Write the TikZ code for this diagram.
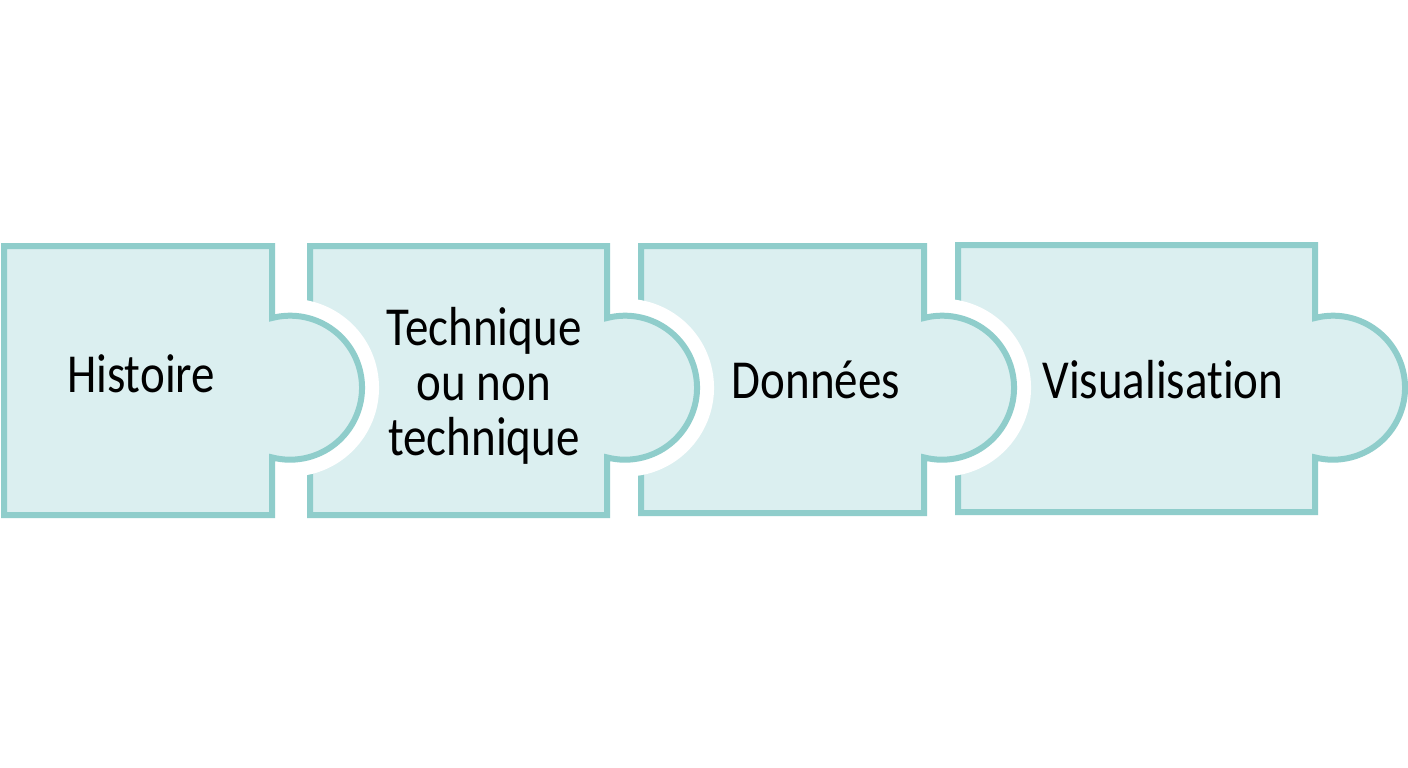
\documentclass[tikz,border=0pt]{standalone}
\usepackage{fontspec}
\setmainfont{Carlito}[Ligatures=NoCommon]
\definecolor{edge}{RGB}{143,205,203}
\definecolor{paper}{RGB}{219,239,240}
\begin{document}
\begin{tikzpicture}[x=1pt,y=-1pt,
  piece/.style={fill=paper,draw=edge,line width=6pt,line join=miter},
  halo/.style={draw=white,line width=34pt},
  label/.style={font=\fontsize{47}{55}\selectfont,text=black,inner sep=0pt,align=center}]
\useasboundingbox[fill=white] (0,0) rectangle (1408,768);
% piece 4
\draw[piece] (958,245) -- (1315,245) -- (1315,318) arc[start angle=104.5,end angle=-104.5,radius=72pt] -- (1315,512) -- (958,512) -- cycle;
% piece 3
\draw[halo] (924,318) arc[start angle=104.5,end angle=-104.5,radius=72pt];
\draw[piece] (641,246) -- (924,246) -- (924,318) arc[start angle=104.5,end angle=-104.5,radius=72pt] -- (924,513) -- (641,513) -- cycle;
% piece 2
\draw[halo] (607,318) arc[start angle=104.5,end angle=-104.5,radius=72pt];
\draw[piece] (310,246) -- (607,246) -- (607,318) arc[start angle=104.5,end angle=-104.5,radius=72pt] -- (607,515) -- (310,515) -- cycle;
% piece 1
\draw[halo] (272,318) arc[start angle=104.5,end angle=-104.5,radius=72pt];
\draw[piece] (4,246) -- (272,246) -- (272,318) arc[start angle=104.5,end angle=-104.5,radius=72pt] -- (272,515) -- (4,515) -- cycle;
% labels
\node[label,anchor=base] (t1) at (141,392) {\scalebox{1}[1.17]{Histoire}};
\node[label] (t2) at (484,386) {\scalebox{1}[1.17]{Technique}\\\scalebox{1}[1.17]{ou non}\\\scalebox{1}[1.17]{technique}};
\node[label,anchor=base] (t3) at (816,398) {\scalebox{1}[1.17]{Données}};
\node[label,anchor=base] (t4) at (1163,398) {\scalebox{1}[1.17]{Visualisation}};
\end{tikzpicture}
\end{document}
